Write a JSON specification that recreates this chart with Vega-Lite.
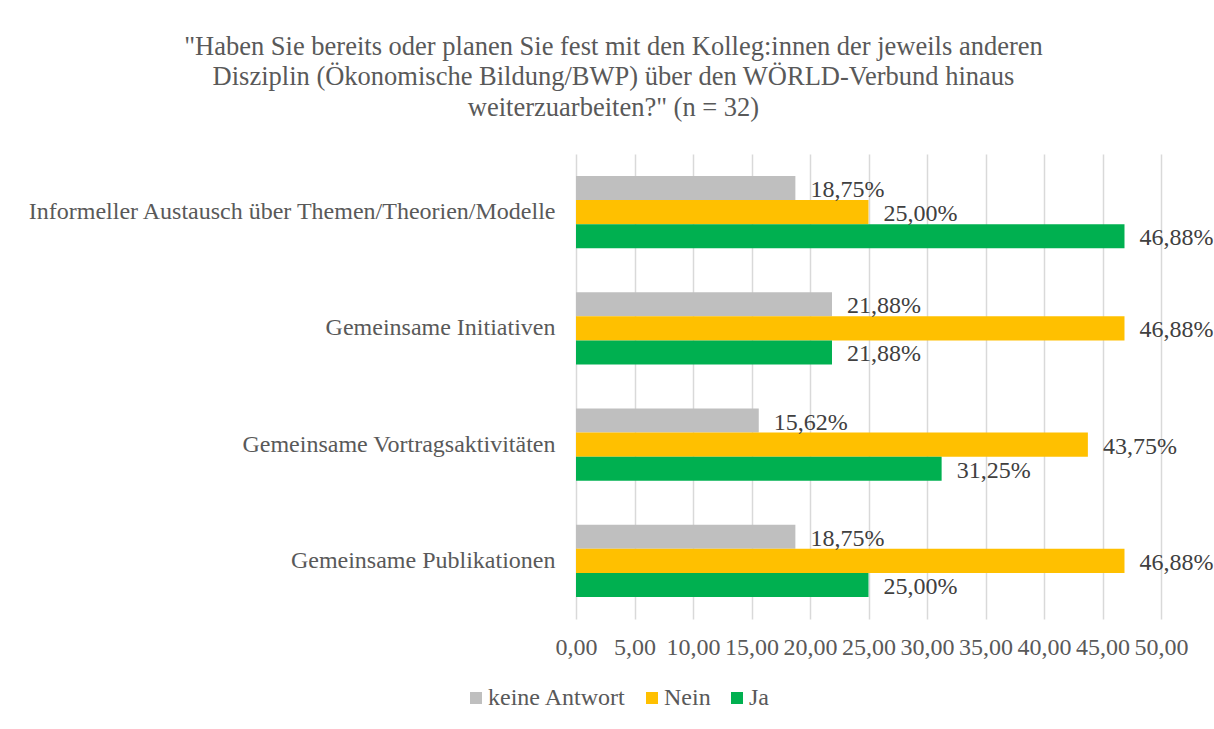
{
  "$schema": "https://vega.github.io/schema/vega-lite/v6.json",
  "autosize": "none",
  "width": 585,
  "height": 465,
  "padding": {"left": 576, "top": 154, "right": 53, "bottom": 110},
  "background": "white",
  "title": {
    "text": ["\"Haben Sie bereits oder planen Sie fest mit den Kolleg:innen der jeweils anderen", "Disziplin (Ökonomische Bildung/BWP) über den WÖRLD-Verbund hinaus", "weiterzuarbeiten?\" (n = 32)"],
    "anchor": "middle",
    "frame": "group",
    "dx": -255,
    "offset": 33,
    "font": "Liberation Serif",
    "fontSize": 26.5,
    "fontWeight": "normal",
    "color": "#595959",
    "lineHeight": 30.5
  },
  "data": {
    "values": [
      {"cat": "Informeller Austausch über Themen/Theorien/Modelle", "series": "keine Antwort", "value": 18.75},
      {"cat": "Informeller Austausch über Themen/Theorien/Modelle", "series": "Nein", "value": 25.00},
      {"cat": "Informeller Austausch über Themen/Theorien/Modelle", "series": "Ja", "value": 46.88},
      {"cat": "Gemeinsame Initiativen", "series": "keine Antwort", "value": 21.88},
      {"cat": "Gemeinsame Initiativen", "series": "Nein", "value": 46.88},
      {"cat": "Gemeinsame Initiativen", "series": "Ja", "value": 21.88},
      {"cat": "Gemeinsame Vortragsaktivitäten", "series": "keine Antwort", "value": 15.62},
      {"cat": "Gemeinsame Vortragsaktivitäten", "series": "Nein", "value": 43.75},
      {"cat": "Gemeinsame Vortragsaktivitäten", "series": "Ja", "value": 31.25},
      {"cat": "Gemeinsame Publikationen", "series": "keine Antwort", "value": 18.75},
      {"cat": "Gemeinsame Publikationen", "series": "Nein", "value": 46.88},
      {"cat": "Gemeinsame Publikationen", "series": "Ja", "value": 25.00}
    ]
  },
  "encoding": {
    "y": {
      "field": "cat",
      "type": "nominal",
      "sort": ["Informeller Austausch über Themen/Theorien/Modelle", "Gemeinsame Initiativen", "Gemeinsame Vortragsaktivitäten", "Gemeinsame Publikationen"],
      "scale": {"paddingInner": 0.38, "paddingOuter": 0.19},
      "axis": {
        "title": null,
        "domain": false,
        "ticks": false,
        "grid": false,
        "labelFont": "Liberation Serif",
        "labelFontSize": 24,
        "labelColor": "#595959",
        "labelPadding": 21,
        "labelLimit": 600
      }
    },
    "yOffset": {
      "field": "series",
      "type": "nominal",
      "sort": ["keine Antwort", "Nein", "Ja"],
      "scale": {"paddingInner": 0, "paddingOuter": 0}
    },
    "x": {
      "field": "value",
      "type": "quantitative",
      "scale": {"domain": [0, 50], "nice": false},
      "axis": {
        "title": null,
        "values": [0, 5, 10, 15, 20, 25, 30, 35, 40, 45, 50],
        "format": ".2f",
        "domain": false,
        "ticks": false,
        "grid": true,
        "gridColor": "#d9d9d9",
        "gridWidth": 1.5,
        "labelFont": "Liberation Serif",
        "labelFontSize": 24,
        "labelColor": "#595959",
        "labelBaseline": "middle",
        "labelPadding": 28,
        "labelFlush": false,
        "labelOverlap": false
      }
    },
    "color": {
      "field": "series",
      "type": "nominal",
      "scale": {"domain": ["keine Antwort", "Nein", "Ja"], "range": ["#BFBFBF", "#FFC000", "#00B050"]},
      "legend": {
        "title": null,
        "orient": "none",
        "direction": "horizontal",
        "legendX": -112,
        "legendY": 532,
        "padding": 0,
        "symbolType": "square",
        "symbolSize": 144,
        "symbolStrokeWidth": 0,
        "symbolOpacity": 1,
        "labelFont": "Liberation Serif",
        "labelFontSize": 24,
        "labelColor": "#595959",
        "labelOffset": 0,
        "columnPadding": 14,
        "labelLimit": 300
      }
    }
  },
  "layer": [
    {"mark": {"type": "bar", "opacity": 1}},
    {
      "mark": {"type": "text", "align": "left", "baseline": "middle", "dx": 15, "dy": 2, "font": "Liberation Serif", "fontSize": 24, "color": "#404040"},
      "encoding": {
        "text": {"field": "value", "type": "quantitative", "format": "$.2f"},
        "color": {"value": "#404040"}
      }
    }
  ],
  "config": {
    "font": "Liberation Serif",
    "title": {"font": "Liberation Serif", "fontWeight": "normal"},
    "legend": {"labelFont": "Liberation Serif"},
    "locale": {
      "number": {"decimal": ",", "thousands": ".", "grouping": [3], "currency": ["", "%"]}
    },
    "view": {"stroke": null}
  }
}
